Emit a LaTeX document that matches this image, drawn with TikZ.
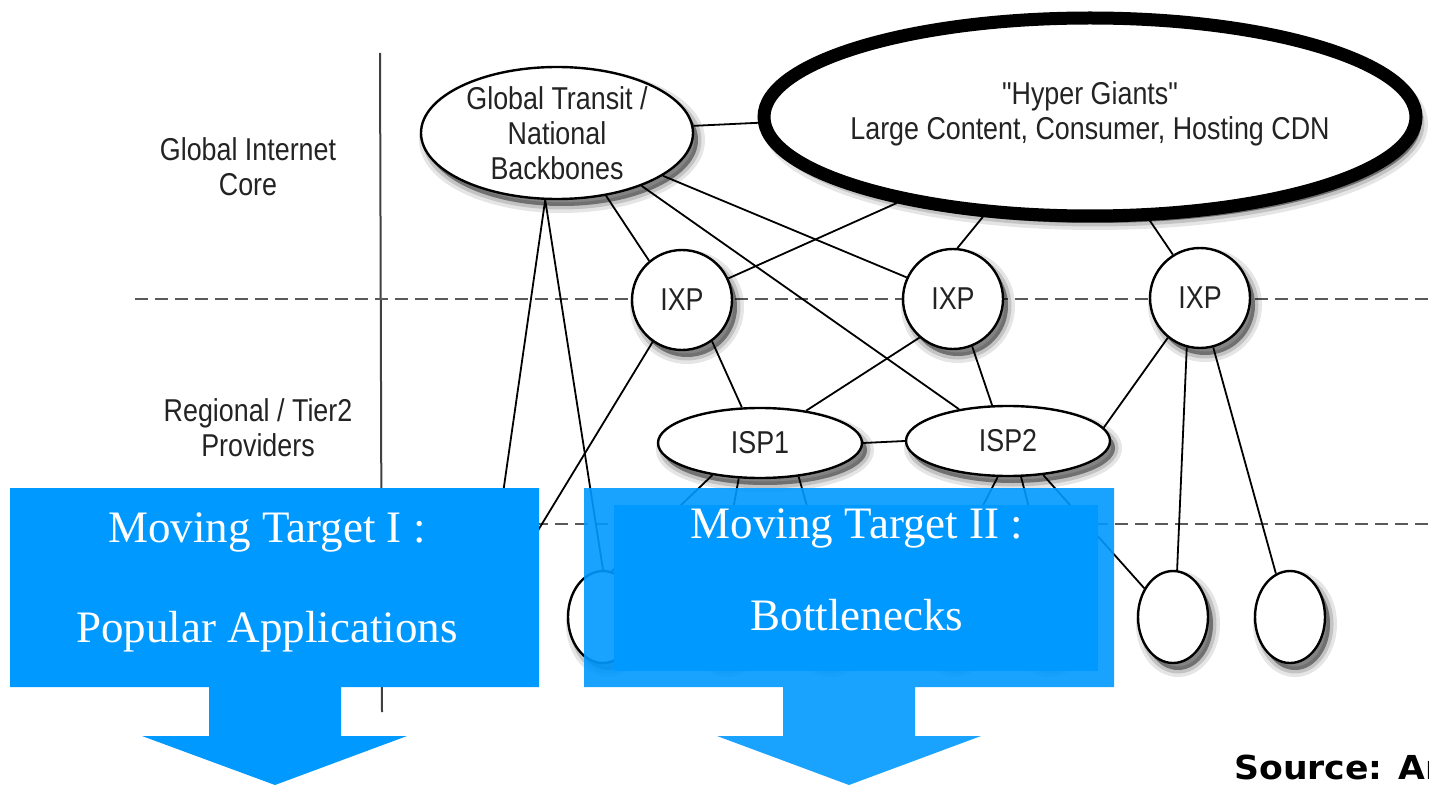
\documentclass[tikz,border=0pt]{standalone}
\usepackage{fontspec}
\setmainfont{Liberation Serif}
\setsansfont[Ligatures=TeXOff,FakeStretch=0.85]{Liberation Sans}
\newfontfamily\srcfont[FakeStretch=1.05]{DejaVu Sans}
\usetikzlibrary{shapes.geometric,backgrounds,shadows}
\definecolor{callblue}{RGB}{0,153,255}
\definecolor{inkgray}{RGB}{35,35,35}
\begin{document}
\begin{tikzpicture}[x=0.5pt,y=-0.5pt,
	soft/.style={
		general shadow={fill=black,fill opacity=0.1,draw=black,draw opacity=0.1,line width=7pt,shadow xshift=2.5pt,shadow yshift=-3.5pt},
		general shadow={fill=black,fill opacity=0.15,draw=black,draw opacity=0.15,line width=3.5pt,shadow xshift=2.5pt,shadow yshift=-3.5pt},
		general shadow={fill=black,fill opacity=0.25,shadow xshift=2.5pt,shadow yshift=-3.5pt}},
	net/.style={soft,draw=black,line width=1.2pt,fill=white,inner sep=0pt,
		font=\sffamily\fontsize{15.8}{17}\selectfont,text=inkgray},
	ixp/.style={net,circle,minimum size=50pt},
	isp/.style={net,ellipse,minimum width=102pt,minimum height=35pt},
	leaf/.style={net,ellipse,minimum width=35pt,minimum height=46pt},
	tier/.style={font=\sffamily\fontsize{15.8}{17.5}\selectfont,text=inkgray,align=center},
	link/.style={line width=0.9pt},
	cut/.style={line width=1.3pt,draw=black!65,dash pattern=on 6.5pt off 3.5pt},
	callout/.style={fill=callblue,draw=none},
	calltext/.style={text=white,font=\fontsize{22.5}{27}\selectfont,inner sep=0pt,anchor=base}]
	\useasboundingbox(0,0)rectangle(1429,786);
	\clip(0,0)rectangle(1429,786);
	% tiers
	\node[tier](core)at(248,167){Global Internet\\Core};
	\node[tier](regional)at(258,428){Regional / Tier2\\Providers};
	% network
	\node[net,ellipse,minimum width=136pt,minimum height=66pt,
		label={[tier]center:{Global Transit /\\National\\Backbones}}](gt)at(557,133){};
	\node[net,ellipse,line width=6.5pt,minimum width=326pt,minimum height=99pt,
		label={[tier,yshift=1.5pt]center:{"Hyper Giants"\\Large Content, Consumer, Hosting CDN}}](hg)at(1090,117){};
	\node[ixp](ixp1)at(682,300){IXP};
	\node[ixp](ixp2)at(953,299){IXP};
	\node[ixp](ixp3)at(1200,298){IXP};
	\node[isp](isp1)at(760,443){ISP1};
	\node[isp](isp2)at(1008,441){ISP2};
	\foreach \n/\x in {1/492,2/603,3/722,4/825,5/950,6/1045,7/1173,8/1290}
		\node[leaf](c\n)at(\x,617){};
	\begin{scope}[on background layer]
		\coordinate(axtop)at(380,53);
		\coordinate(axbot)at(382,712);
		\draw[line width=1pt,draw=black!75](axtop)--(axbot);
		\coordinate(cutA)at(135,299);
		\coordinate(cutB)at(1429,299);
		\coordinate(cutC)at(135,524);
		\coordinate(cutD)at(1429,524);
		\draw[cut](cutA)--(cutB);
		\draw[cut](cutC)--(cutD);
		\draw[link](gt.3)--(hg.181);
		\draw[link](c1.north)--(gt.260)--(c2.north);
		\draw[link](gt.308)--(ixp1.130);
		\draw[link](gt.338)--(ixp2.155);
		\draw[link](gt.328)--(isp2.147);
		\draw[link](ixp1.25)--(hg.204);
		\draw[link](hg.223)--(ixp2.85);
		\draw[link](hg.300)--(ixp3.122);
		\draw[link](ixp1.306)--(isp1.117);
		\draw[link](ixp1.235)--(c1.66);
		\draw[link](isp1.east)--(isp2.west);
		\draw[link](isp1.35)--(ixp2.229);
		\draw[link](isp1.214)--(c2.79);
		\draw[link](isp1.239)--(c3.north);
		\draw[link](isp1.319)--(c4.north);
		\draw[link](ixp2.292)--(isp2.114);
		\draw[link](ixp3.231)--(isp2.8);
		\draw[link](isp2.254)--(c5.north);
		\draw[link](isp2.290)--(c6.north);
		\draw[link](isp2.316)--(c7.135);
		\draw[link](ixp3.255)--(c7.85);
		\draw[link](ixp3.285)--(c8.108);
	\end{scope}
	% callouts
	\fill[callout](10,488)--(539,488)--(539,687)--(341,687)--(341,736)--(407,736)--(275,785)
		--(142,736)--(209,736)--(209,687)--(10,687)--cycle;
	\node[calltext](mt1)at(267,542){Moving Target I :};
	\node[calltext](apps)at(267,642){Popular Applications};
	\fill[callout,fill opacity=0.9](584,488)--(1114,488)--(1114,687)--(915,687)--(915,736)--(981,736)--(849,785)
		--(717,736)--(783,736)--(783,687)--(584,687)--cycle;
	\fill[callout](614,505)rectangle(1098,671);
	\node[calltext](mt2)at(857,538){Moving Target II :};
	\node[calltext](neck)at(857,630){Bottlenecks};
	\node[font=\srcfont\bfseries\fontsize{16.5}{19}\selectfont,anchor=base west,inner sep=0pt](src)at(1234,779){Source: Ar};
\end{tikzpicture}
\end{document}
